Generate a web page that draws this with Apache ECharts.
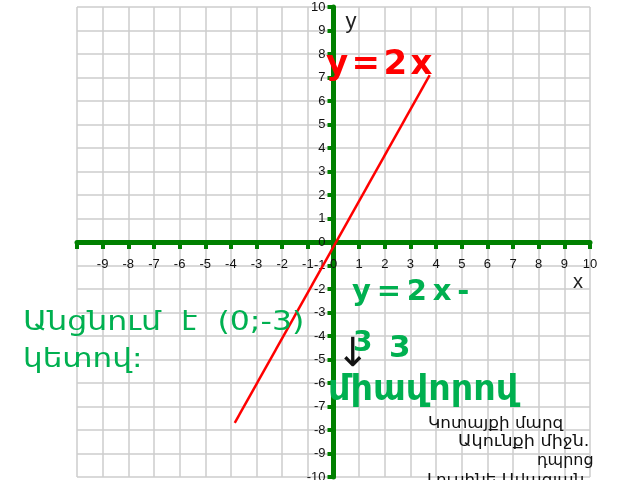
<!DOCTYPE html>
<html>
<head>
<meta charset="utf-8">
<script src="https://cdn.jsdelivr.net/npm/echarts@6/dist/echarts.min.js"></script>
<style>html,body{margin:0;padding:0;background:#fff}#c{width:640px;height:480px}</style>
</head>
<body>
<div id="c"></div>
<script>
// Data
var xRange = [-10, 10];
var yRange = [-10, 10];
var lineX = [-3.85, 3.75];
var lineY = [-7.7, 7.1];
var titleRed = 'y\u200A=\u200A2\u200Ax';
var titleGreen1 = 'y\u2009=\u20092\u2009x\u2009-';
var titleGreen2a = '3';
var titleGreen2b = '3';
var unitsText = 'միավորով';
var passText1 = 'Անցնում  է  (0;-3)';
var passText2 = 'կետով:';
var creditLines = ['Կոտայքի մարզ', 'Ակունքի միջն.', 'դպրոց', 'Լուսինե Ավագյան'];

var chart = echarts.init(document.getElementById('c'));
var GREEN = '#008000';
var TGREEN = '#00b050';
var labelFont = "'Liberation Sans Narrow','Liberation Sans',Arial,sans-serif";
var arm = "'DejaVu Sans',sans-serif";

var lineData = lineX.map(function (x, i) { return [x, lineY[i]]; });

var G = { left: 77, right: 50, top: 7, bottom: 3 };
var gw = 640 - G.left - G.right, gh = 480 - G.top - G.bottom;

function txt(x, y, s, fill, font, sx, sy) {
  return { type: 'text', x: x, y: y, z: 100, scaleX: sx || 1, scaleY: sy || 1,
    style: { text: s, fill: fill, font: font, textAlign: 'left', textVerticalAlign: 'top' } };
}

chart.setOption({
  animation: false,
  backgroundColor: '#fff',
  grid: { left: G.left, right: G.right, top: G.top, bottom: G.bottom, outerBoundsMode: 'none', containLabel: false },
  xAxis: {
    type: 'value', min: xRange[0], max: xRange[1], interval: 1,
    position: 'bottom', offset: -gh / 2,
    name: 'x', nameLocation: 'end', nameGap: -12,
    nameTextStyle: { fontSize: 20, color: '#222', fontFamily: 'Liberation Sans', align: 'center', verticalAlign: 'top', padding: [30, 0, 0, 0] },
    axisLine: { onZero: false, lineStyle: { color: GREEN, width: 5 } },
    axisTick: { show: true, length: 7, lineStyle: { color: GREEN, width: 4 } },
    axisLabel: {
      margin: 16, fontSize: 13, color: '#111', fontFamily: labelFont,
      formatter: function (v) { return v === -10 ? '' : String(v); }
    },
    splitLine: { show: true, lineStyle: { color: '#cdcdcd', width: 1.5 } }
  },
  yAxis: {
    type: 'value', min: yRange[0], max: yRange[1], interval: 1,
    position: 'left', offset: -gw / 2,
    name: 'y', nameLocation: 'end', nameGap: 0,
    nameTextStyle: { fontSize: 22, color: '#222', fontFamily: 'Liberation Sans', align: 'left', verticalAlign: 'top', padding: [4, 0, 0, 12] },
    axisLine: { onZero: false, lineStyle: { color: GREEN, width: 5 } },
    axisTick: { show: true, length: 6, lineStyle: { color: GREEN, width: 4 } },
    axisLabel: { margin: 8, fontSize: 13, color: '#111', fontFamily: labelFont },
    splitLine: { show: true, lineStyle: { color: '#cdcdcd', width: 1.5 } }
  },
  series: [{
    type: 'line', data: lineData, showSymbol: false, symbol: 'none',
    lineStyle: { color: '#ff0000', width: 2.5 }, z: 5
  }],
  graphic: [
    txt(326, 48, titleRed, '#ff0000', "bold 34px 'DejaVu Sans'"),
    txt(352, 278, titleGreen1, TGREEN, "bold 29px 'DejaVu Sans'"),
    txt(353, 330, titleGreen2a, TGREEN, "bold 28px 'DejaVu Sans'"),
    txt(389, 333, titleGreen2b, TGREEN, "bold 31px 'DejaVu Sans'"),
    txt(336, 336, '↓', '#111', "40px 'DejaVu Sans'"),
    txt(328, 373, unitsText, TGREEN, "bold 35px " + arm),
    txt(23, 309, passText1, TGREEN, "27px " + arm, 1.17),
    txt(23, 346, passText2, TGREEN, "27px " + arm, 1.15),
    txt(428, 416, creditLines[0], '#111', "16px " + arm, 1.05),
    txt(458, 434, creditLines[1], '#111', "16px " + arm, 1.1),
    txt(537, 453, creditLines[2], '#111', "16px " + arm, 1.0),
    txt(427, 473, creditLines[3], '#111', "16px " + arm, 1.05)
  ]
});
</script>
</body>
</html>
